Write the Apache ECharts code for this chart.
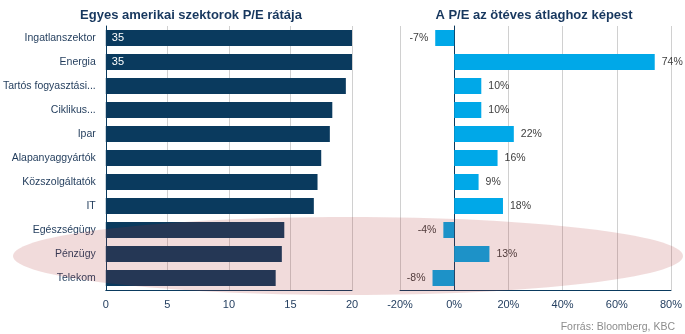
<!DOCTYPE html>
<html>
<head>
<meta charset="utf-8">
<script src="https://cdn.jsdelivr.net/npm/echarts@6/dist/echarts.min.js"></script>
<style>
html,body{margin:0;padding:0;background:#fff;}
#c{width:685px;height:334px;}
</style>
</head>
<body>
<div id="c"></div>
<script>
var categories = ['Ingatlanszektor','Energia','Tartós fogyasztási...','Ciklikus...','Ipar','Alapanyaggyártók','Közszolgáltatók','IT','Egészségügy','Pénzügy','Telekom'];
var peValues = [35, 35, 19.5, 18.4, 18.2, 17.5, 17.2, 16.9, 14.5, 14.3, 13.8];
var relValues = [-7, 74, 10, 10, 22, 16, 9, 18, -4, 13, -8];
var peTicks = [0, 5, 10, 15, 20];
var relTicks = [-20, 0, 20, 40, 60, 80];

var navy = '#0a3a5e';
var FONT = 'Liberation Sans';
var chart = echarts.init(document.getElementById('c'), null, {renderer: 'canvas'});

var relData = relValues.map(function (v) {
  return {value: v, label: {position: v < 0 ? 'left' : 'right'}};
});

chart.setOption({
  animation: false,
  title: [
    {text: 'Egyes amerikai szektorok P/E rátája', left: 186, top: 4, textAlign: 'center',
     textStyle: {fontFamily: FONT, fontSize: 13, fontWeight: 'bold', color: '#17375e'}},
    {text: 'A P/E az ötéves átlaghoz képest', left: 529, top: 4, textAlign: 'center',
     textStyle: {fontFamily: FONT, fontSize: 13, fontWeight: 'bold', color: '#17375e'}},
    {text: 'Forrás: Bloomberg, KBC', right: 5, top: 317,
     textStyle: {fontFamily: FONT, fontSize: 10.5, fontWeight: 'normal', color: '#8c8c8c'}}
  ],
  grid: [
    {left: 105, top: 26, width: 247, height: 264},
    {left: 400, top: 26, width: 271, height: 264}
  ],
  xAxis: [
    {gridIndex: 0, type: 'value', min: peTicks[0], max: peTicks[peTicks.length - 1], interval: 5,
     axisLine: {show: true, lineStyle: {color: navy, width: 1}},
     axisTick: {show: false},
     axisLabel: {margin: 9, fontFamily: FONT, fontSize: 11, color: '#243f60'},
     splitLine: {show: true, lineStyle: {color: '#d0d0d0'}}},
    {gridIndex: 1, type: 'value', min: relTicks[0], max: relTicks[relTicks.length - 1], interval: 20,
     axisLine: {show: true, onZero: false, lineStyle: {color: navy, width: 1}},
     axisTick: {show: false},
     axisLabel: {margin: 9, fontFamily: FONT, fontSize: 11, color: '#243f60', formatter: '{value}%'},
     splitLine: {show: true, lineStyle: {color: '#d0d0d0'}}}
  ],
  yAxis: [
    {gridIndex: 0, type: 'category', data: categories, inverse: true,
     axisLine: {show: true, lineStyle: {color: navy, width: 1}},
     axisTick: {show: false},
     axisLabel: {margin: 10, fontFamily: FONT, fontSize: 10.5, color: '#1f3a5a'}},
    {gridIndex: 1, type: 'category', data: categories, inverse: true,
     axisLine: {show: true, onZero: true, lineStyle: {color: navy, width: 1}},
     axisTick: {show: false},
     axisLabel: {show: false}}
  ],
  series: [
    {type: 'bar', xAxisIndex: 0, yAxisIndex: 0, data: peValues, barWidth: 16,
     itemStyle: {color: navy}, clip: true,
     label: {show: true, position: 'insideLeft', distance: 6, fontFamily: FONT, fontSize: 11, color: '#ffffff',
       formatter: function (p) { return p.value > 20 ? String(p.value) : ''; }}},
    {type: 'bar', xAxisIndex: 1, yAxisIndex: 1, data: relData, barWidth: 16,
     itemStyle: {color: '#00a8e8'},
     label: {show: true, distance: 7, fontFamily: FONT, fontSize: 10.5, color: '#404040', formatter: '{c}%'}}
  ],
  graphic: [
    {type: 'ellipse', z: 100, silent: true,
     shape: {cx: 348, cy: 256, rx: 335, ry: 39},
     style: {fill: 'rgba(170,40,40,0.17)'}}
  ]
});
</script>
</body>
</html>
